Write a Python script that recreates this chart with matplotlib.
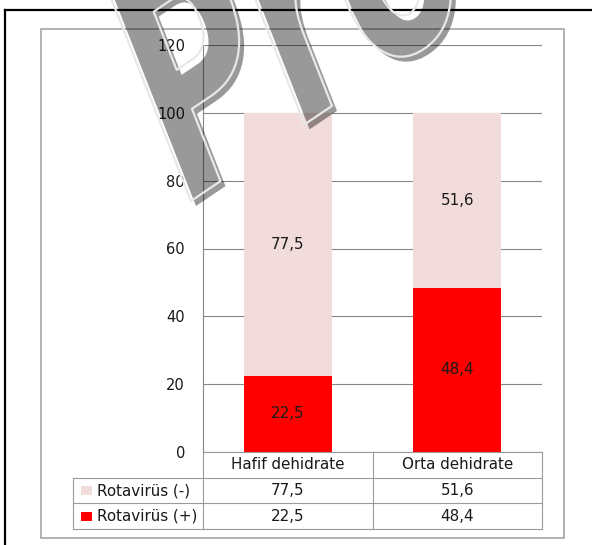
import numpy as np
import matplotlib
matplotlib.use("Agg")
import matplotlib.pyplot as plt
import matplotlib.patheffects as pe
from matplotlib.transforms import Affine2D, blended_transform_factory
from matplotlib.textpath import TextPath
from matplotlib.font_manager import FontProperties
from matplotlib.patches import Rectangle
from matplotlib.lines import Line2D

# ---- data ----
categories = ["Hafif dehidrate", "Orta dehidrate"]
series_names = ["Rotavirüs (-)", "Rotavirüs (+)"]
rota_neg = [77.5, 51.6]
rota_pos = [22.5, 48.4]
yticks = [0, 20, 40, 60, 80, 100, 120]

C_NEG = "#F2DCDB"
C_POS = "#FF0000"
GRID = "#868686"
TLINE = "#9a9a9a"
TXT = "#1a1a1a"
FS = 10.5
FS_T = 10.9

W, H = 592, 545
plt.rcParams['font.family'] = ['DejaVu Sans']
fig = plt.figure(figsize=(W / 100, H / 100), dpi=100, facecolor="white")

def fx(px):
    return px / W

def fy(py):
    return (H - py) / H

# plot area
ax_l, ax_r, ax_t, ax_b = 203, 542, 45, 452
ax = fig.add_axes([fx(ax_l), fy(ax_b), fx(ax_r) - fx(ax_l), fy(ax_t) - fy(ax_b)])
ax.set_facecolor("none")
ax.set_xlim(-0.5, 1.5)
ax.set_ylim(0, 120)
ax.set_yticks(yticks)
ax.set_yticklabels([str(v) for v in yticks], fontsize=FS, color=TXT)
ax.tick_params(axis="y", length=0, pad=13)
ax.set_xticks([])
for s in ["top", "right"]:
    ax.spines[s].set_visible(False)
ax.spines["left"].set_color(GRID)
ax.spines["bottom"].set_color(TLINE)
ax.spines["left"].set_linewidth(0.8)
ax.spines["bottom"].set_linewidth(0.8)
ax.yaxis.grid(True, color=GRID, linewidth=0.8)
ax.set_axisbelow(True)

x = np.arange(len(categories))
bw = 0.52
ax.bar(x, rota_pos, bw, color=C_POS, zorder=2)
ax.bar(x, rota_neg, bw, bottom=rota_pos, color=C_NEG, zorder=2)
for i in range(len(categories)):
    ax.text(x[i], rota_pos[i] / 2, f"{rota_pos[i]:.1f}".replace(".", ","),
            ha="center", va="center", fontsize=FS_T, color=TXT, zorder=3)
    ax.text(x[i], rota_pos[i] + rota_neg[i] / 2, f"{rota_neg[i]:.1f}".replace(".", ","),
            ha="center", va="center", fontsize=FS_T, color=TXT, zorder=3)

# ---- data table below the axis ----
bt = blended_transform_factory(ax.transData, ax.transAxes)
ax_h = ax_b - ax_t
cat_w = (ax_r - ax_l) / 2.0
row_h = 25.7 / ax_h
x_left = -0.5 - (ax_l - 73) / cat_w
y0 = 0.0
y1 = -row_h
y2 = -2 * row_h
y3 = -3 * row_h

def tline(xs, ys):
    ax.add_line(Line2D(xs, ys, transform=bt, color=TLINE, lw=0.8, clip_on=False))

for yy in (y1, y2, y3):
    tline([x_left, 1.5], [yy, yy])
for xx in (-0.5, 0.5, 1.5):
    tline([xx, xx], [y0, y3])
tline([x_left, x_left], [y1, y3])

for i, c in enumerate(categories):
    ax.text(x[i], (y0 + y1) / 2, c, transform=bt, ha="center", va="center",
            fontsize=FS_T, color=TXT, clip_on=False)

rows = [(series_names[0], rota_neg, C_NEG), (series_names[1], rota_pos, C_POS)]
for r, (name, vals, col) in enumerate(rows):
    yc = -(r + 1.5) * row_h
    ax.add_patch(Rectangle((-0.5 - (ax_l - 81) / cat_w, yc - 4.5 / ax_h), 11 / cat_w, 9 / ax_h,
                           transform=bt, facecolor=col, edgecolor="none", clip_on=False))
    ax.text(-0.5 - (ax_l - 97) / cat_w, yc, name, transform=bt, ha="left", va="center",
            fontsize=FS_T, color=TXT, clip_on=False)
    for i in range(len(categories)):
        ax.text(x[i], yc, f"{vals[i]:.1f}".replace(".", ","), transform=bt, ha="center",
                va="center", fontsize=FS_T, color=TXT, clip_on=False)

# ---- frames ----
fig.patches.append(Rectangle((fx(41), fy(538)), fx(564) - fx(41), fy(29) - fy(538),
                             transform=fig.transFigure, facecolor="none",
                             edgecolor="#a6a6a6", lw=1.2, zorder=0))
fig.lines.append(Line2D([fx(5), fx(5)], [fy(9.5), 0], transform=fig.transFigure,
                        color="black", lw=1.6, zorder=5))
fig.lines.append(Line2D([fx(5), 1], [fy(9.5), fy(9.5)], transform=fig.transFigure,
                        color="black", lw=1.6, zorder=5))

# ---- watermark "Pro" ----
class Warp(pe.AbstractPathEffect):
    def __init__(self, sx, skew, offset=(0, 0), face=True, **gc_kw):
        super().__init__(offset)
        self.sx, self.skew, self.face, self.gc_kw = sx, skew, face, gc_kw

    def draw_path(self, renderer, gc, tpath, affine, rgbFace=None):
        gc0 = renderer.new_gc()
        gc0.copy_properties(gc)
        gc0 = self._update_gc(gc0, self.gc_kw)
        t = Affine2D().scale(self.sx, 1).skew_deg(self.skew, 0) + affine + self._offset_transform(renderer)
        renderer.draw_path(gc0, tpath, t, rgbFace if self.face else None)
        gc0.restore()

EM = 300.0
SX = 0.63
SKEW = 12.5
ROT = 34.0
fp = FontProperties(family="DejaVu Sans", weight="bold")
lsb = TextPath((0, 0), "P", size=EM, prop=fp).get_extents().x0 * SX
tx = 191 - lsb * np.cos(np.radians(ROT))
ty = (H - 201) - lsb * np.sin(np.radians(ROT))
sh = 5 * 72 / 100
fig.text(tx / W, ty / H, "Pro", fontsize=EM * 72 / 100, fontweight="bold", family="DejaVu Sans",
         rotation=ROT, rotation_mode="anchor", ha="left", va="baseline",
         color=(0, 0, 0, 0.4), zorder=10,
         path_effects=[Warp(SX, SKEW, offset=(sh, -sh), face=True),
                       Warp(SX, SKEW, face=False, linewidth=1.6, foreground="#e8e8e8")])

fig.savefig("out.png", dpi=100, facecolor="white")
